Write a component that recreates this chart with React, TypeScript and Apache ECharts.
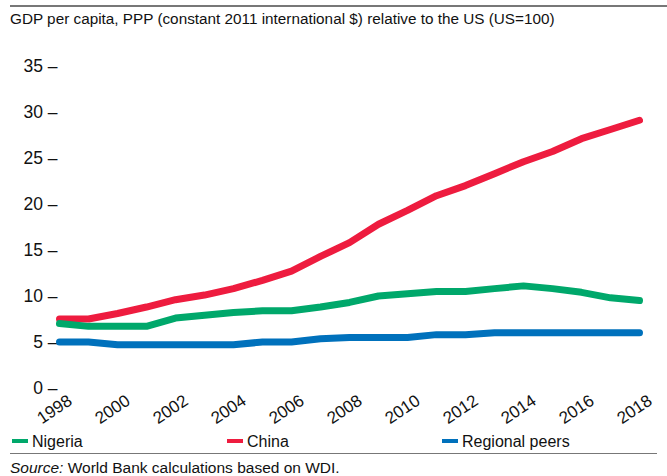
import React, { useEffect, useRef } from "react";
import * as echarts from "echarts";

const years = ["1998","1999","2000","2001","2002","2003","2004","2005","2006","2007","2008","2009","2010","2011","2012","2013","2014","2015","2016","2017","2018"];
const nigeria = [7.0,6.7,6.7,6.7,7.6,7.9,8.2,8.4,8.4,8.8,9.3,10.0,10.25,10.5,10.5,10.8,11.1,10.8,10.4,9.8,9.5];
const china = [7.5,7.5,8.1,8.8,9.6,10.1,10.8,11.7,12.7,14.3,15.8,17.8,19.3,20.9,22.0,23.3,24.6,25.7,27.1,28.1,29.1];
const regional = [5.0,5.0,4.7,4.7,4.7,4.7,4.7,5.0,5.0,5.35,5.5,5.5,5.5,5.8,5.8,6.0,6.0,6.0,6.0,6.0,6.0];
const seriesNames = ["Nigeria", "China", "Regional peers"];
const colors = ["#00A86B", "#EE1C3F", "#0071BC"];
const title = "GDP per capita, PPP (constant 2011 international $) relative to the US (US=100)";

export default function App() {
  const ref = useRef<HTMLDivElement>(null);
  useEffect(() => {
    const chart = echarts.init(ref.current!, null, { renderer: "svg" });
    const font = "Arial, 'Liberation Sans', sans-serif";
    const dataSets = [nigeria, china, regional];
    const legendLefts = [12, 227, 442];
    chart.setOption({
      animation: false,
      textStyle: { fontFamily: font },
      grid: { left: 59.5, right: 27.5, top: 66, bottom: 88, containLabel: false },
      xAxis: {
        type: "category",
        data: years,
        boundaryGap: false,
        axisLine: { show: false },
        axisTick: { show: false },
        axisLabel: {
          interval: 1,
          rotate: 34,
          fontSize: 17,
          color: "#111",
          margin: 18,
          align: "center",
          verticalAlign: "middle",
          padding: [0, 12, 0, 0],
          fontFamily: font,
        },
      },
      yAxis: {
        type: "value",
        min: 0,
        max: 35,
        interval: 5,
        axisLine: { show: false },
        axisTick: { show: false },
        splitLine: { show: false },
        axisLabel: {
          formatter: "{value} –",
          fontSize: 17.5,
          color: "#111",
          margin: 2,
          fontFamily: font,
        },
      },
      legend: seriesNames.map((n, i) => ({
        data: [n],
        left: legendLefts[i],
        top: 433,
        icon: "rect",
        itemWidth: 16,
        itemHeight: 4,
        itemGap: 4,
        padding: 0,
        textStyle: { fontSize: 16, color: "#111", fontFamily: font, padding: [0, 0, 0, -1] },
      })),
      series: seriesNames.map((n, i) => ({
        name: n,
        type: "line",
        data: dataSets[i],
        showSymbol: false,
        symbol: "none",
        lineStyle: { width: 7, color: colors[i], cap: "round", join: "round" },
        itemStyle: { color: colors[i] },
        z: 10 - i,
      })),
      graphic: [
        { type: "line", shape: { x1: 10, y1: 6, x2: 667, y2: 6 }, style: { stroke: "#777", lineWidth: 2 } },
        { type: "text", left: 10, top: 11, style: { text: title, fontSize: 15.3, fill: "#111", fontFamily: font } },
        { type: "line", shape: { x1: 10, y1: 453.5, x2: 657, y2: 453.5 }, style: { stroke: "#777", lineWidth: 1.2 } },
        {
          type: "text",
          left: 10,
          top: 459,
          style: {
            text: "{i|Source:} World Bank calculations based on WDI.",
            fontSize: 15.5,
            fill: "#111",
            fontFamily: font,
            rich: { i: { fontStyle: "italic", fontSize: 15.5, fontFamily: font, fill: "#111" } },
          },
        },
      ],
    });
    return () => chart.dispose();
  }, []);
  return <div ref={ref} style={{ width: 667, height: 476, position: "absolute", left: 0, top: 0 }} />;
}
